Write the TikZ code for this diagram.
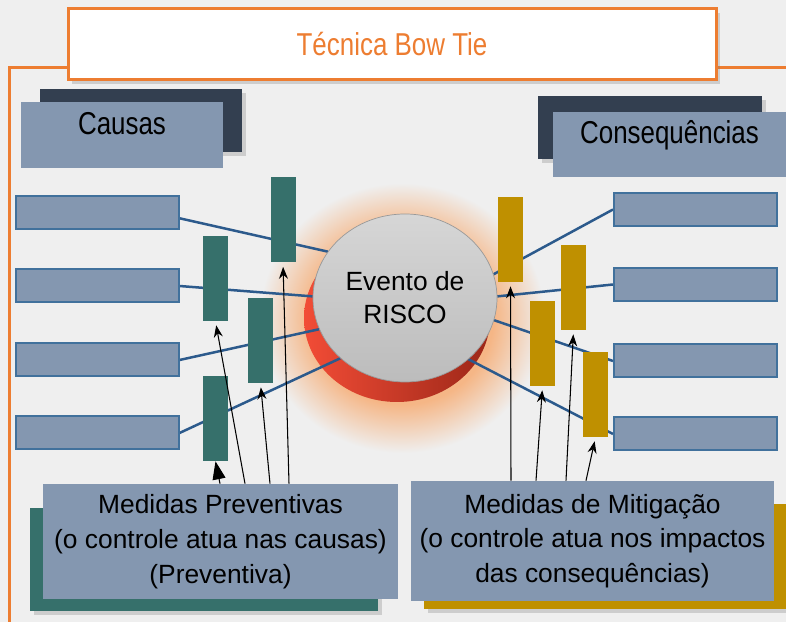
\documentclass[tikz,border=0pt]{standalone}
\usepackage{fontspec}
\setmainfont{Liberation Sans}
\newfontfamily\narrowfont{Liberation Sans}[FakeStretch=0.82]
\usetikzlibrary{calc,shapes.geometric,shadows,arrows.meta}

\definecolor{bgc}{HTML}{EFEFEF}
\definecolor{orangec}{HTML}{ED7D31}
\definecolor{darkc}{HTML}{333F50}
\definecolor{boxc}{HTML}{8497B0}
\definecolor{edgec}{HTML}{41719C}
\definecolor{tealc}{HTML}{36706B}
\definecolor{goldc}{HTML}{BF9000}
\definecolor{linkc}{HTML}{2C5A8C}
\definecolor{glowc}{HTML}{F5B686}
\definecolor{diskt}{HTML}{D6D6D6}
\definecolor{diskb}{HTML}{BCBCBC}
\definecolor{redl}{HTML}{F24C36}
\definecolor{redr}{HTML}{9C2718}

\pgfdeclarelayer{back}
\pgfsetlayers{back,main}
\pgfdeclareradialshading{riskglow}{\pgfpointorigin}{color(0bp)=(glowc); color(16bp)=(glowc); color(25bp)=(bgc); color(50bp)=(bgc)}

\tikzset{
	sz/.style 2 args={minimum width=#1*0.2mm, minimum height=#2*0.2mm, inner sep=0pt},
	dropsh/.style={drop shadow={opacity=0.3, shadow xshift=0.8mm, shadow yshift=-0.8mm}},
	hdr/.style={fill=boxc, text height=13pt, text depth=13.7pt, font=\narrowfont\fontsize{18}{22}\selectfont},
	cause/.style={fill=boxc, draw=edgec, line width=0.4mm, sz={163}{33}},
	prevbar/.style={fill=tealc, sz={25}{85}},
	mitbar/.style={fill=goldc, sz={25}{85}},
	measure/.style={fill=boxc, align=center, font=\fontsize{15}{19.8}\selectfont},
	link/.style={draw=linkc, line width=0.5mm},
	ptr/.style={draw=black, line width=0.6pt, -{Stealth[length=2.4mm, width=1.8mm]}, shorten >=0.8mm}
}

\begin{document}
\begin{tikzpicture}[x=0.2mm, y=-0.2mm]
	\useasboundingbox (0,0) rectangle (786,622);
	\draw[orangec, line width=0.6mm] (9,622) -- (9,68) -- (786,68);
	\node[fill=white, draw=orangec, line width=0.6mm, sz={648}{71}, dropsh, text=orangec, font=\narrowfont\fontsize{18}{22}\selectfont] (title) at (392,44.5) {Técnica Bow Tie};

	\node[fill=darkc, sz={202}{63}, dropsh] (causasback) at (141,120.5) {};
	\node[hdr, sz={202}{66}] (causas) at (122,135) {Causas};
	\node[fill=darkc, sz={224}{63}, dropsh] (consback) at (650,127.5) {};
	\node[hdr, sz={233}{65}] (cons) at (669.5,144.5) {Consequências};

	\node[cause] (c1) at (97,212.5) {};
	\node[cause] (c2) at (97,286) {};
	\node[cause] (c3) at (97,360) {};
	\node[cause] (c4) at (97,433) {};
	\node[cause] (k1) at (695.5,209.5) {};
	\node[cause] (k2) at (695.5,284.5) {};
	\node[cause] (k3) at (695.5,361) {};
	\node[cause] (k4) at (695.5,434) {};

	\node[ellipse, sz={184}{168}, top color=diskt, bottom color=diskb, draw=gray!80, line width=0.4pt, align=center, font=\fontsize{15}{18.7}\selectfont] (risk) at (405,298) {Evento de\\RISCO};

	\node[prevbar] (pa) at (283,220) {};
	\node[prevbar] (pb) at (215.5,278.5) {};
	\node[prevbar] (pc) at (260.5,340.5) {};
	\node[prevbar] (pd) at (215.5,418.5) {};
	\node[mitbar] (ma) at (510.5,239.5) {};
	\node[mitbar] (mb) at (573.5,287.5) {};
	\node[mitbar] (mc) at (542.5,343.5) {};
	\node[mitbar] (md) at (595.5,394.5) {};

	\node[fill=tealc, sz={348}{103}, dropsh] (prevback) at (204,559.5) {};
	\node[measure, sz={355}{115}] (prev) at (220.5,541.5) {Medidas Preventivas\\(o controle atua nas causas)\\(Preventiva)};
	\node[fill=goldc, sz={362}{105}, dropsh] (mitback) at (605,556.5) {};
	\node[measure, sz={363}{120}] (mit) at (592.5,541) {Medidas de Mitigação\\(o controle atua nos impactos\\das consequências)};

	\begin{pgfonlayer}{back}
		\fill[bgc] (0,0) rectangle (786,622);
		\shade[shading=riskglow] (402,318) ellipse [x radius=28.5mm, y radius=27mm];
		\shade[left color=redl, right color=redr] (397,318) ellipse [x radius=18.6mm, y radius=16.8mm];
		\path[link] (c1.-4) -- (risk.149.5);
		\path[link] (c2.east) -- (risk.179);
		\path[link] (c3.east) -- (risk.200);
		\path[link] (c4.east) -- (risk.223);
		\path[link] (risk.15) -- (k1.west);
		\path[link] (risk.1) -- (k2.west);
		\path[link] (risk.-14) -- (k3.west);
		\path[link] (risk.-44) -- (k4.west);
	\end{pgfonlayer}

	\draw[ptr] ($(prev.north)+(68.5,0)$) -- (pa.south);
	\draw[ptr] ($(prev.north)+(49.5,0)$) -- (pc.south);
	\draw[ptr] ($(prev.north)+(24.5,0)$) -- (pb.south);
	\draw[line width=0.6pt, -{Triangle[length=3.6mm, width=2.6mm]}] ($(prev.north)+(-0.5,0)$) -- (pd.south);
	\draw[ptr] ($(mit.north)+(-81.5,0)$) -- (ma.south);
	\draw[ptr] ($(mit.north)+(-56.5,0)$) -- (mc.south);
	\draw[ptr] ($(mit.north)+(-26.5,0)$) -- (mb.south);
	\draw[ptr] ($(mit.north)+(-6.5,0)$) -- (md.south);
\end{tikzpicture}
\end{document}
